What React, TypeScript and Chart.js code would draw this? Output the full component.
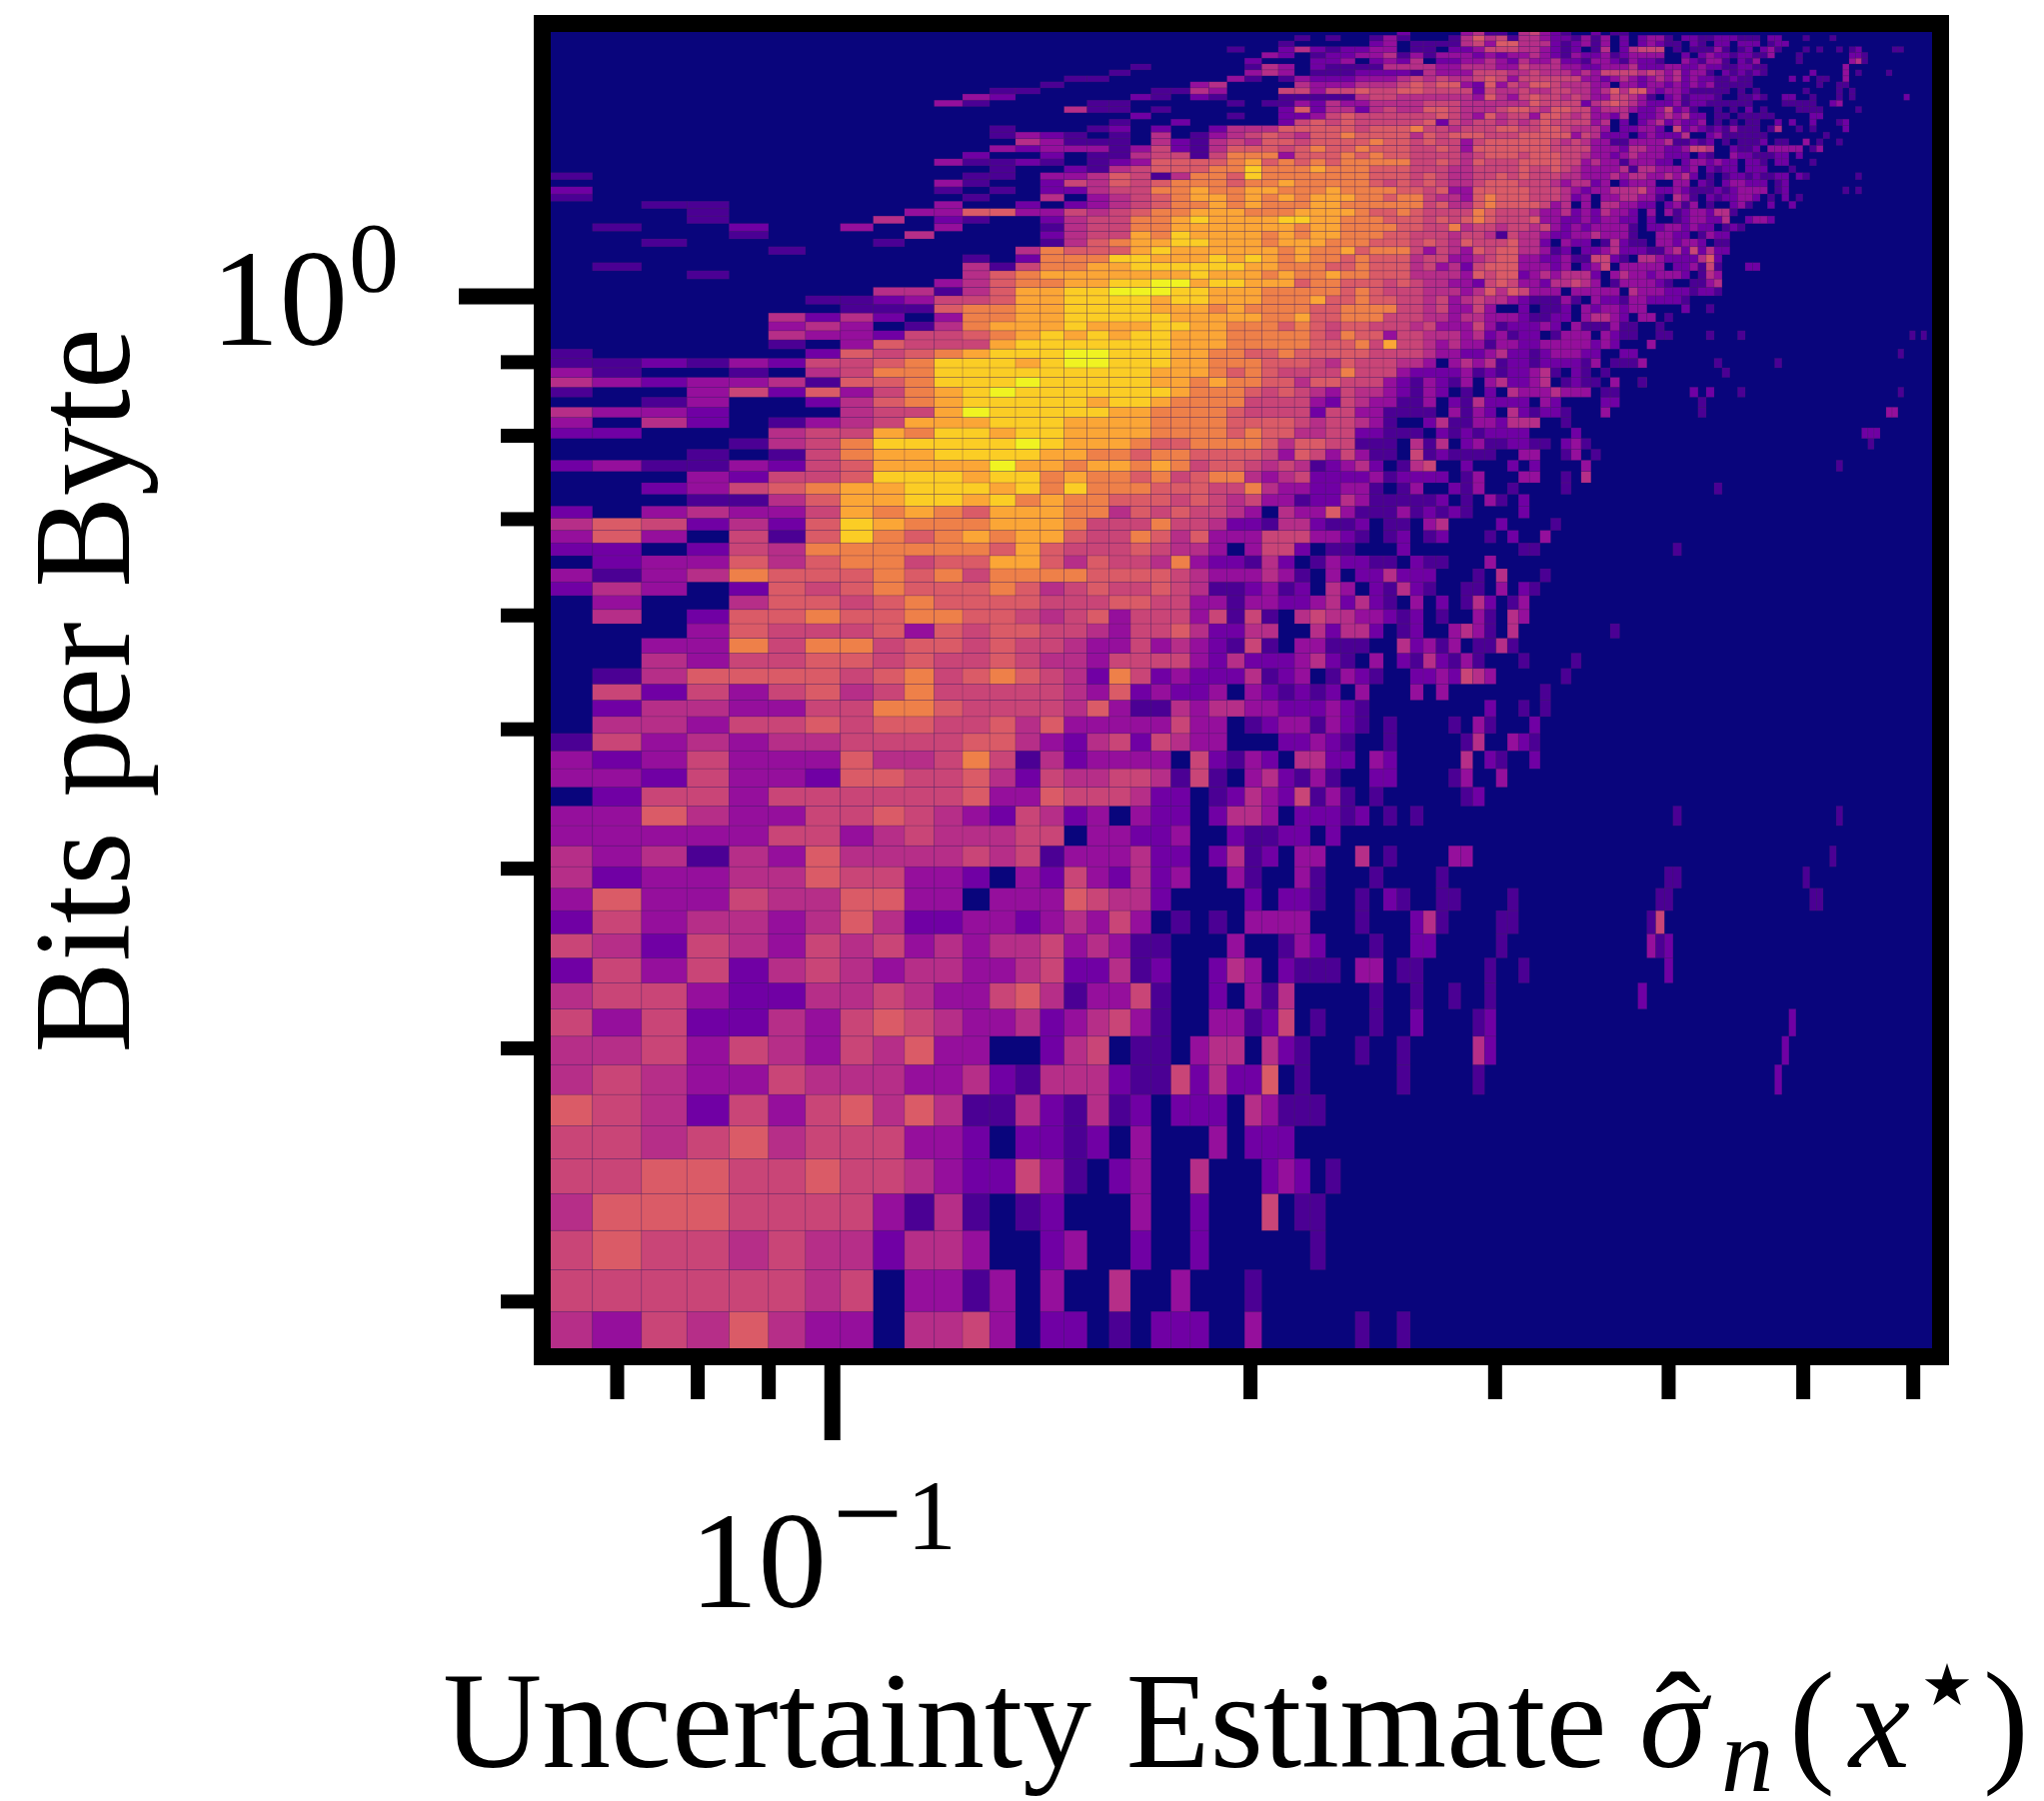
import React, { useEffect, useRef } from "react";
import { Chart, registerables } from "chart.js";

Chart.register(...registerables);

// Histogram bin layout (linear bins drawn on log-log axes)
const X_FIRST_EDGE = 0.0615;
const X_BIN_WIDTH = 0.00569;
const Y_FIRST_EDGE = 0.1832;
const Y_BIN_HEIGHT = 0.01363;
const X_RANGE = [0.0627, 0.619];
const Y_RANGE = [0.1856, 1.527];

const X_MAJOR_TICKS = [0.1];
const X_MINOR_TICKS = [0.07, 0.08, 0.09, 0.2, 0.3, 0.4, 0.5, 0.6];
const Y_MAJOR_TICKS = [1];
const Y_MINOR_TICKS = [0.2, 0.3, 0.4, 0.5, 0.6, 0.7, 0.8, 0.9];

const PALETTE = ["#09057c", "#4b0094", "#7000a4", "#950f9c", "#b62e88", "#c94577", "#da5b67", "#ee8049", "#fba636", "#fbcd25", "#f0f321"];

// Colour level of each bin: one string per row from the bottom, one character per column (a = top level)
const ROWS = [
  "4354643304 4530220102 2200300000 01001",
  "5555554503 3130300400 30001",
  "5655454424 4300230020 0200000010",
  "4666555531 4101200030 0200050110",
  "5566556554 3225310230 0400023201",
  "5545645553 3202212030 0030222000",
  "6542535646 4114214120 2220431110",
  "4543354443 3421444211 5242260100 0000100000",
  "4453543546 3300245011 0344042100 0100100000",
  "5352243565 4334234531 0033125010 0010020000",
  "4553224454 3356413351 0020314000 001001001",
  "2535245434 4334522412 0024302111 033011",
  "5425435453 4344534311 0003001320 0010022",
  "2534434642 2332343530 1010333300 01000241",
  "3633544663 3033365442 0000202210 010210011",
  "4233446553 3203253242 3003100310 00100001",
  "4341436444 4545133342 2024120330 0401000033",
  "3333355345 4445503322 3002112202",
  "3364335565 4325423032 2024430222 120101",
  "0255355555 5633655542 2012432513 1010000001",
  "3325332665 5642544554 1510342131 0022000013",
  "3235333644 5751423333 0521320442 2032000004",
  "1534344555 5664324525 4330002232 1001000001",
  "0443556566 5564633333 5330123313 2101000010",
  "0244335577 6555546311 4344332223 21",
  "0525356457 5555543623 2230321212 03000303",
  "0146666567 5676542752 3222412301 3210022325",
  "0043556656 5565443555 5324222342 1030214213",
  "0033757756 6565543353 4321510331 1100423130",
  "0003655563 6566554355 6422440042 4420120034",
  "0402667667 7665456355 5351510454 4332120100",
  "0300466567 6666555665 5331332234 2421030201",
  "2430265676 6676456556 5411231204 3021421001",
  "3134766676 7577776666 5433343103 0224222000",
  "0233646775 6688646554 7322142013 2211021100",
  "2202547777 7768655565 4430355201 10002",
  "3630516976 7878865576 4633355533 2101201200",
  "4652426987 7788875557 5542214421 1201103400",
  "2034335878 7688877465 6554304336 3111312121",
  "0001146889 9897877666 5654533122 4311111201",
  "0023567889 9989797776 6655743322 3310130021",
  "0003255699 9899787767 5677434522 2231222201",
  "2311325688 88a8878878 7566545412 3420145002",
  "0001015788 9999887767 7666653653 5311051211 1100330013 01",
  "0000145799 999a988876 6777764665 5111041402 3112211023 1",
  "2200045587 9989988887 7776766445 5221110212 1222200002",
  "3042013458 8899988887 7776666545 5431002411 332444001",
  "4332000455 8a99999887 7776555525 5331111031 3204212210 003",
  "0013002467 8999998998 7777555532 5433113021 4222203200 0022",
  "1003526357 89a9999999 8777656543 5443213201 0204333433 3011",
  "4323341667 999a999998 8787766466 5553213213 0342234012 1103001",
  "3100104577 9999999998 8876765555 7555322223 1212234102 101",
  "1121325567 99989aa999 8877766654 6555443034 3412212222 1301113",
  "1000002656 78999aa999 8877667666 6655554332 2342212333 220022",
  "0000010365 5589999999 8887777766 6758554343 3133223333 32320003",
  "0000043325 5678989899 8887777765 7663554443 4231220133 3032110011 0000100010",
  "0000034301 4788898889 9887776765 6655545333 5312223203 111311001",
  "0000042420 3778899999 8888877866 7775554434 4333211220 3443203301",
  "0000000111 6778899998 8878777766 7777554533 5300201120 3233233000 02001",
  "0000001123 5568899998 9988877786 6766554534 5443211131 0322133222 21",
  "0000000044 1468899aaa 9988877777 6765554443 4646533303 3333043332 221221",
  "0000000000 346778899a a899888677 6665654433 2565332445 4301333321 001134",
  "0001000000 0467888888 8988878778 7766644443 6566234344 4203433233 320143",
  "0100000000 0415778899 9999887776 6766645342 5666333230 2350333330 2231510002 2",
  "0000000000 0102777998 8898987877 6766645533 4566332231 1552104432 222462",
  "0000010000 0004766689 8888887877 8677753543 6566443120 2234222113 4252422",
  "0010000010 0000146788 9988878887 7766656546 5556442032 2014211033 2332011",
  "0000100004 0000245587 9888878788 7776655545 5415443223 3433310033 2201322",
  "0100200300 3000145577 8888888788 7777665574 5545545323 2333310223 323220121",
  "0001000040 2100245577 8988889988 7776665656 7655563322 3233220200 1233224002 332",
  "0001000003 3663354567 7888777888 8766765555 7655543342 3243320303 12332441",
  "0011000000 3002023456 7787877788 7777775644 6766665340 3044332202 3130100231 002002",
  "1000000000 0100403456 7887878788 8776775443 6766655542 3033443310 4310212233 2010201",
  "2000000000 1010224557 7877887778 7777665633 6666655543 2334445322 3211121233 3301200000 000101",
  "0000000000 3100254656 7776778777 7765656544 5666555434 4230233300 3302102332 22012",
  "1000000000 0110334651 4776977777 7766656544 5565655544 3334344334 3420101221 2112202100 0000010",
  "0000000000 0010021456 6677977787 7766655544 5555655654 3333414433 3230212202 220001",
  "0000000000 3112101236 6667867676 7777755654 6555666655 3433133322 0233232202 210220001",
  "0000000000 0200201145 5157773666 7676655554 5666566655 4332343332 2202100322 1112202",
  "0000000000 0032333135 2146665676 6766655653 6666666555 5333244332 2355400211 2033333013",
  "0000000000 0004311104 2145466566 6676656553 5666666545 4331133334 1121201011 1201100301 001",
  "0000000000 0013210104 0134565466 7666646566 6555666663 5422202322 2400231111 1100000000 1",
  "0000000000 0010001202 0024446666 6566675545 5566556654 4430223320 5232121311 1014001010 0002",
  "0000000000 0000000100 2000002565 6555556254 5545456555 5340202342 3223010101 1002020020 0012",
  "0000000000 0000000020 0001002235 6555555654 3645536654 5332402234 3422011011 1110000022",
  "0000000000 0000041101 0000002624 4245446654 4456654665 5344432235 2310010102 0100001111 0000010",
  "0000000000 3100001100 0001011324 3344445554 4444465555 2456543222 3122111111 0000111110 023",
  "0000000000 0320000021 0210001111 1455444444 3643565545 4335543102 3122210011 2100220010 0010100000 0002",
  "0000000000 0011000001 1430005535 5655665555 2544544554 4346466323 3211111010 1000000100 00101",
  "0000000000 0000100000 0340000433 3444565663 2635466544 4330332332 3232311111 0000000001 0011",
  "0000000000 0000011000 0003101322 2333454544 5653555555 3323432343 4232211211 0000020201 1003",
  "0000000000 0000000100 0000343011 1222214333 5554454443 4355554543 4233102121 2100000020 0003010000 1",
  "0000000000 0000000010 0000143021 1114444334 4433544433 2233342223 3223221122 1100000000 0003",
  "0000000000 0000000000 0000200022 3023240223 3432433422 1332132210 0321331021 3000001000 0000341",
  "0000000000 0000000000 0000032012 2334131333 2323343213 2231233330 0202322122 1130001000 0000221",
  "0000000000 0000000000 0001002421 2233011022 3555443212 0140245550 1011131012 0231000101 0010120000 011",
  "0000000000 0000000000 0000001000 0023011114 5366444212 3130202321 1021022022 20122",
  "0000000000 0000000000 0000000101 0013100014 6451443221 3130202331 0221122211 1022000100 01",
  "0000000000 0000000000 0000000000 0000200003 4110453210 0201100000",
];

// Isolated bins far to the right: [row, column, level]
const SPARSE_BINS = [
  [7, 40, 1], [7, 73, 2], [8, 40, 4], [8, 41, 2], [8, 74, 2], [9, 40, 1], [9, 41, 2], [9, 75, 2],
  [10, 41, 1], [10, 56, 2], [11, 41, 1], [11, 44, 1], [11, 59, 2], [12, 42, 1], [12, 57, 3], [12, 58, 1], [12, 59, 2],
  [13, 42, 1], [13, 43, 1], [13, 57, 1], [13, 58, 5], [14, 43, 1], [14, 58, 1], [14, 59, 1], [14, 78, 1], [14, 79, 1],
  [15, 59, 1], [15, 60, 1], [15, 77, 1], [16, 81, 1], [18, 60, 1], [18, 82, 1], [19, 40, 2], [20, 42, 3],
  [21, 41, 2], [21, 42, 1], [21, 45, 2], [22, 40, 4], [22, 43, 3], [22, 44, 2], [22, 45, 1], [23, 40, 3], [23, 41, 1], [23, 45, 2],
  [24, 41, 2], [24, 44, 1], [24, 46, 1], [25, 46, 1], [26, 40, 4], [26, 41, 3], [26, 48, 1], [27, 40, 1], [27, 44, 1], [27, 49, 1],
  [28, 40, 1], [28, 41, 1], [28, 42, 4], [28, 43, 1], [29, 40, 3], [29, 41, 1], [29, 43, 4], [29, 53, 1],
  [30, 40, 3], [30, 41, 1], [30, 43, 4], [30, 44, 3], [31, 40, 4], [31, 41, 2], [31, 43, 1], [31, 44, 3],
  [32, 40, 1], [32, 42, 3], [32, 44, 2], [32, 45, 1], [33, 40, 1], [33, 42, 4], [33, 46, 1], [34, 41, 3],
  [35, 44, 1], [35, 45, 1], [35, 60, 1], [36, 41, 1], [36, 43, 2], [36, 46, 3], [37, 42, 2], [37, 47, 1], [38, 44, 2],
  [39, 41, 3], [39, 42, 1], [39, 44, 2], [40, 40, 3], [40, 43, 1], [40, 48, 1], [40, 65, 1],
  [41, 40, 3], [41, 44, 3], [41, 45, 3], [41, 48, 1], [41, 50, 4], [42, 43, 2], [42, 45, 2], [42, 50, 3], [42, 82, 1],
  [44, 87, 1], [45, 86, 2], [45, 87, 2], [45, 88, 2], [47, 63, 1], [47, 90, 3], [47, 91, 3], [48, 63, 1],
  [49, 62, 2], [49, 64, 2], [49, 68, 1], [49, 92, 1], [50, 56, 1], [51, 66, 1], [52, 65, 1], [52, 73, 1], [53, 92, 1],
  [55, 94, 1], [55, 96, 1],
];

const Y_LABEL = "Bits per Byte";
const X_LABEL = "Uncertainty Estimate";

function buildBins() {
  const bins = [];
  ROWS.forEach((text, row) => {
    text.replace(/ /g, "").split("").forEach((ch, col) => {
      bins.push({ row, col, level: parseInt(ch, 11) });
    });
  });
  SPARSE_BINS.forEach(([row, col, level]) => bins.push({ row, col, level }));
  return bins
    .filter((b) => b.level > 0)
    .map((b) => ({
      x: X_FIRST_EDGE + X_BIN_WIDTH * (b.col + 0.5),
      y: Y_FIRST_EDGE + Y_BIN_HEIGHT * (b.row + 0.5),
      level: b.level,
    }));
}

const SERIF = '"Liberation Serif", serif';

const heatmapPlugin = {
  id: "heatmap",
  beforeDatasetsDraw(chart) {
    const { ctx, chartArea: a, scales } = chart;
    ctx.save();
    ctx.beginPath();
    ctx.rect(a.left, a.top, a.right - a.left, a.bottom - a.top);
    ctx.clip();
    ctx.fillStyle = PALETTE[0];
    ctx.fillRect(a.left, a.top, a.right - a.left, a.bottom - a.top);
    const rects = chart.data.datasets[0].data.map((b) => {
      const x0 = scales.x.getPixelForValue(b.x - X_BIN_WIDTH / 2);
      const x1 = scales.x.getPixelForValue(b.x + X_BIN_WIDTH / 2);
      const y0 = scales.y.getPixelForValue(b.y + Y_BIN_HEIGHT / 2);
      const y1 = scales.y.getPixelForValue(b.y - Y_BIN_HEIGHT / 2);
      return { x0, x1, y0, y1, level: b.level };
    });
    rects.forEach((r) => {
      ctx.fillStyle = PALETTE[r.level];
      ctx.fillRect(r.x0, r.y0, r.x1 - r.x0, r.y1 - r.y0);
    });
    ctx.strokeStyle = "rgba(90,50,90,0.22)";
    ctx.lineWidth = 0.7;
    rects.forEach((r) => ctx.strokeRect(r.x0, r.y0, r.x1 - r.x0, r.y1 - r.y0));
    ctx.restore();
  },
  afterDraw(chart) {
    const { ctx, chartArea: a, scales } = chart;
    const FRAME = 17;
    ctx.save();
    ctx.fillStyle = "#000";
    ctx.fillRect(a.left - FRAME, a.top - FRAME, a.right - a.left + 2 * FRAME, FRAME);
    ctx.fillRect(a.left - FRAME, a.bottom, a.right - a.left + 2 * FRAME, FRAME);
    ctx.fillRect(a.left - FRAME, a.top, FRAME, a.bottom - a.top);
    ctx.fillRect(a.right, a.top, FRAME, a.bottom - a.top);

    const bottom = a.bottom + FRAME;
    const left = a.left - FRAME;
    X_MINOR_TICKS.forEach((v) => ctx.fillRect(scales.x.getPixelForValue(v) - 7, bottom, 14, 34));
    X_MAJOR_TICKS.forEach((v) => ctx.fillRect(scales.x.getPixelForValue(v) - 8, bottom, 16, 75));
    Y_MINOR_TICKS.forEach((v) => ctx.fillRect(left - 33, scales.y.getPixelForValue(v) - 7, 33, 14));
    Y_MAJOR_TICKS.forEach((v) => ctx.fillRect(left - 75, scales.y.getPixelForValue(v) - 8, 75, 16));

    ctx.textBaseline = "alphabetic";
    ctx.textAlign = "left";
    const main = `137px ${SERIF}`;
    const sup = `100px ${SERIF}`;
    ctx.font = main;
    ctx.fillText("10", 690, 1608);
    ctx.fillText("10", 211, 344.6);
    ctx.font = sup;
    ctx.fillText("0", 349, 290.7);
    ctx.fillText("1", 907, 1550);
    ctx.font = `125px ${SERIF}`;
    ctx.fillText("\u2212", 833, 1556);

    const label = `137.5px ${SERIF}`;
    const italic = `italic 137.5px ${SERIF}`;
    ctx.font = label;
    ctx.fillText(X_LABEL, 443, 1768);
    ctx.fillText("\u02c6", 1656, 1768);
    ctx.font = italic;
    ctx.fillText("\u03c3", 1640, 1768);
    ctx.font = `italic 105px ${SERIF}`;
    ctx.fillText("n", 1722, 1792);
    ctx.font = label;
    ctx.fillText("(", 1790, 1768);
    ctx.font = italic;
    ctx.fillText("x", 1850, 1768);
    ctx.font = `58px "DejaVu Sans", sans-serif`;
    ctx.fillText("\u2605", 1922, 1706);
    ctx.font = label;
    ctx.fillText(")", 1984, 1768);

    ctx.translate(128.6, 691);
    ctx.rotate(-Math.PI / 2);
    ctx.textAlign = "center";
    ctx.font = label;
    ctx.fillText(Y_LABEL, 0, 0);
    ctx.restore();
  },
};

export default function App() {
  const ref = useRef(null);
  useEffect(() => {
    document.body.style.margin = "0";
    const collapse = (s) => {
      s.width = s.isHorizontal() ? s.width : 0;
      s.height = s.isHorizontal() ? 0 : s.height;
    };
    const chart = new Chart(ref.current, {
      type: "scatter",
      data: { datasets: [{ data: buildBins(), pointRadius: 0, pointHoverRadius: 0 }] },
      plugins: [heatmapPlugin],
      options: {
        animation: false,
        responsive: false,
        events: [],
        layout: { padding: { left: 551, right: 112, top: 32, bottom: 453 } },
        plugins: { legend: { display: false }, tooltip: { enabled: false }, title: { display: false } },
        scales: {
          x: {
            type: "logarithmic",
            min: X_RANGE[0],
            max: X_RANGE[1],
            grid: { display: false },
            border: { display: false },
            ticks: { display: false },
            afterFit: collapse,
          },
          y: {
            type: "logarithmic",
            min: Y_RANGE[0],
            max: Y_RANGE[1],
            grid: { display: false },
            border: { display: false },
            ticks: { display: false },
            afterFit: collapse,
          },
        },
      },
    });
    return () => chart.destroy();
  }, []);
  return <canvas ref={ref} width={2045} height={1802} style={{ display: "block", width: 2045, height: 1802 }} />;
}
